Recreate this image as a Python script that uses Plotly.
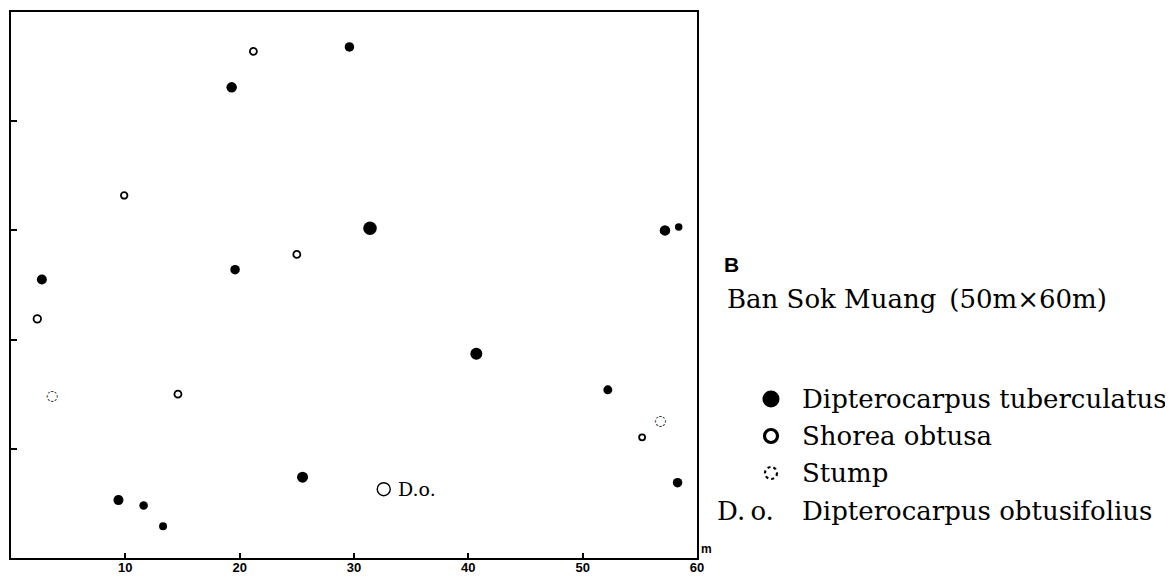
import plotly.graph_objects as go

# ---- data (metres within the 60 m x 50 m plot) ----
tub_x = [29.6, 19.3, 31.4, 19.6, 2.7, 57.2, 58.4, 40.7, 52.2, 58.3, 25.5, 9.4, 11.6, 13.3]
tub_y = [46.8, 43.1, 30.2, 26.4, 25.5, 30.0, 30.3, 18.7, 15.4, 6.9, 7.4, 5.3, 4.8, 2.9]
tub_d = [9.5, 10.5, 13.5, 9.5, 10, 10.5, 7.5, 12, 9, 9.5, 11, 10, 8.5, 8]

sho_x = [21.2, 9.9, 25.0, 2.3, 14.6, 55.2]
sho_y = [46.4, 33.2, 27.8, 21.9, 15.0, 11.05]
sho_d = [7, 6.5, 7, 7.5, 7, 6]

do_x = [32.6]
do_y = [6.3]
do_label = ["D.o."]

stump_x = [3.6, 56.8]
stump_y = [14.8, 12.5]

x_ticks = [10, 20, 30, 40, 50, 60]
x_ticklabels = ["10", "20", "30", "40", "50", "60"]
y_ticks = [10, 20, 30, 40]

title_letter = "B"
title_text = "Ban Sok Muang\u2002(50m\u00d760m)"
legend_names = ["Dipterocarpus tuberculatus", "Shorea obtusa", "Stump",
                "Dipterocarpus obtusifolius"]
legend_abbrev = "D.\u2009o."

# ---- layout geometry ----
# The page body has an 8 px margin; screen positions below are converted.
OFF = 8
W, H = 1173, 577
L, R, T, B = 3, 484, 4, 27
PW, PH = W - L - R, H - T - B


def px(xs):
    return (xs - OFF - L) / PW


def py(ys):
    return (H - B - (ys - OFF)) / PH


fig = go.Figure()

fig.add_trace(go.Scatter(
    x=tub_x, y=tub_y, mode="markers",
    marker=dict(symbol="circle", size=tub_d, color="black", opacity=1,
                line=dict(width=0)),
    hoverinfo="skip", showlegend=False))

fig.add_trace(go.Scatter(
    x=sho_x, y=sho_y, mode="markers",
    marker=dict(symbol="circle-open", size=sho_d, color="black", opacity=1,
                line=dict(width=1.8)),
    hoverinfo="skip", showlegend=False))

fig.add_trace(go.Scatter(
    x=do_x, y=do_y, mode="markers",
    marker=dict(symbol="circle-open", size=13, color="black", opacity=1,
                line=dict(width=1.4)),
    hoverinfo="skip", showlegend=False))

fig.add_trace(go.Scatter(
    x=stump_x, y=stump_y, mode="text", text=["\u25cc"] * len(stump_x),
    textposition="middle center",
    textfont=dict(family="DejaVu Sans", size=14, color="black"),
    hoverinfo="skip", showlegend=False))

serif = dict(family="DejaVu Serif", size=26, color="black")

annotations = [
    dict(x=px(722), y=py(264), xref="paper", yref="paper", text=title_letter,
         showarrow=False, xanchor="left", yanchor="middle",
         font=dict(family="Liberation Sans", size=21, color="black", weight="bold")),
    dict(x=px(725), y=py(299), xref="paper", yref="paper", text=title_text,
         showarrow=False, xanchor="left", yanchor="middle", font=serif),
    dict(x=px(715), y=py(511), xref="paper", yref="paper", text=legend_abbrev,
         showarrow=False, xanchor="left", yanchor="middle", font=serif),
    dict(x=60, y=0, xref="x", yref="y", text="m", showarrow=False,
         xanchor="left", yanchor="bottom", xshift=2, yshift=0,
         font=dict(family="Liberation Sans", size=12, color="black", weight="bold")),
    dict(x=do_x[0], y=do_y[0], xref="x", yref="y", text=do_label[0], showarrow=False,
         xanchor="left", yanchor="middle", xshift=12, yshift=0,
         font=dict(family="DejaVu Serif", size=19, color="black")),
]
row_y = [399, 436, 473, 511]
for name, yy in zip(legend_names, row_y):
    annotations.append(dict(
        x=px(800), y=py(yy), xref="paper", yref="paper", text=name,
        showarrow=False, xanchor="left", yanchor="middle", font=serif))

# legend key symbols (layout decorations in paper space, pixel sized)
sym_x = px(771)
shapes = [
    dict(type="circle", xref="paper", yref="paper", xsizemode="pixel", ysizemode="pixel",
         xanchor=sym_x, yanchor=py(row_y[0]), x0=-8.5, x1=8.5, y0=-8.5, y1=8.5,
         fillcolor="black", line=dict(color="black", width=0)),
    dict(type="circle", xref="paper", yref="paper", xsizemode="pixel", ysizemode="pixel",
         xanchor=sym_x, yanchor=py(row_y[1]), x0=-6.5, x1=6.5, y0=-6.5, y1=6.5,
         fillcolor="rgba(0,0,0,0)", line=dict(color="black", width=3.2)),
    dict(type="circle", xref="paper", yref="paper", xsizemode="pixel", ysizemode="pixel",
         xanchor=sym_x, yanchor=py(row_y[2]), x0=-6, x1=6, y0=-6, y1=6,
         fillcolor="rgba(0,0,0,0)", line=dict(color="black", width=2.2, dash="dot")),
]

fig.update_layout(
    template="none",
    width=W, height=H,
    margin=dict(l=L, r=R, t=T, b=B, pad=0),
    paper_bgcolor="white", plot_bgcolor="white",
    annotations=annotations, shapes=shapes,
    xaxis=dict(range=[0, 60], tickvals=x_ticks, ticktext=x_ticklabels,
               ticks="inside", ticklen=5, tickwidth=1.5, tickcolor="black",
               showline=True, linecolor="black", linewidth=2, mirror=True,
               showgrid=False, zeroline=False, automargin=False,
               ticklabelstandoff=-4,
               tickfont=dict(family="Liberation Sans", size=13, color="black", weight="bold")),
    yaxis=dict(range=[0, 50], tickvals=y_ticks, showticklabels=False,
               ticks="inside", ticklen=6, tickwidth=1.5, tickcolor="black",
               showline=True, linecolor="black", linewidth=2, mirror=True,
               showgrid=False, zeroline=False, automargin=False),
)

fig.write_html("out.html")
